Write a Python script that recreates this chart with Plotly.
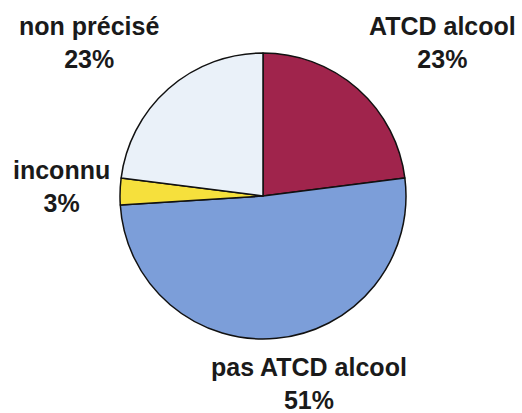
"""
Pie chart: ATCD alcool breakdown
"""

import plotly.graph_objects as go

# Data
labels = ['ATCD alcool', 'pas ATCD alcool', 'inconnu', 'non précisé']
values = [23, 51, 3, 23]
colors = ['#A0244C', '#7C9ED9', '#F6E03C', '#EAF1F9']

# label positions (paper coords), one per slice
label_x = [442 / 522, 309 / 522, 61 / 522, 89 / 522]
label_y = [1 - 43 / 413, 1 - 383 / 413, 1 - 186 / 413, 1 - 43 / 413]

W, H = 522, 413
cx, cy, r = 263, 196, 143

fig = go.Figure()

fig.add_trace(go.Pie(
    labels=labels,
    values=values,
    sort=False,
    direction='clockwise',
    rotation=0,
    textinfo='none',
    hoverinfo='label+percent',
    marker=dict(colors=colors, line=dict(color='#111111', width=1.5)),
    domain=dict(x=[(cx - r) / W, (cx + r) / W],
                y=[(H - cy - r) / H, (H - cy + r) / H]),
    showlegend=False
))

for lab, val, x, y in zip(labels, values, label_x, label_y):
    fig.add_annotation(
        x=x, y=y, xref='paper', yref='paper',
        text=f'<b>{lab}<br>{val}%</b>',
        showarrow=False,
        xanchor='center', yanchor='middle',
        font=dict(family='Arial, Liberation Sans, sans-serif', size=25, color='#1a1a1a')
    )

fig.update_layout(
    width=W, height=H,
    margin=dict(l=0, r=0, t=0, b=0),
    paper_bgcolor='white',
    plot_bgcolor='white'
)

# drop the default body margin so the figure fills the window
fig.write_html("out.html", config={'displayModeBar': False},
               post_script="document.body.style.margin='0';")
